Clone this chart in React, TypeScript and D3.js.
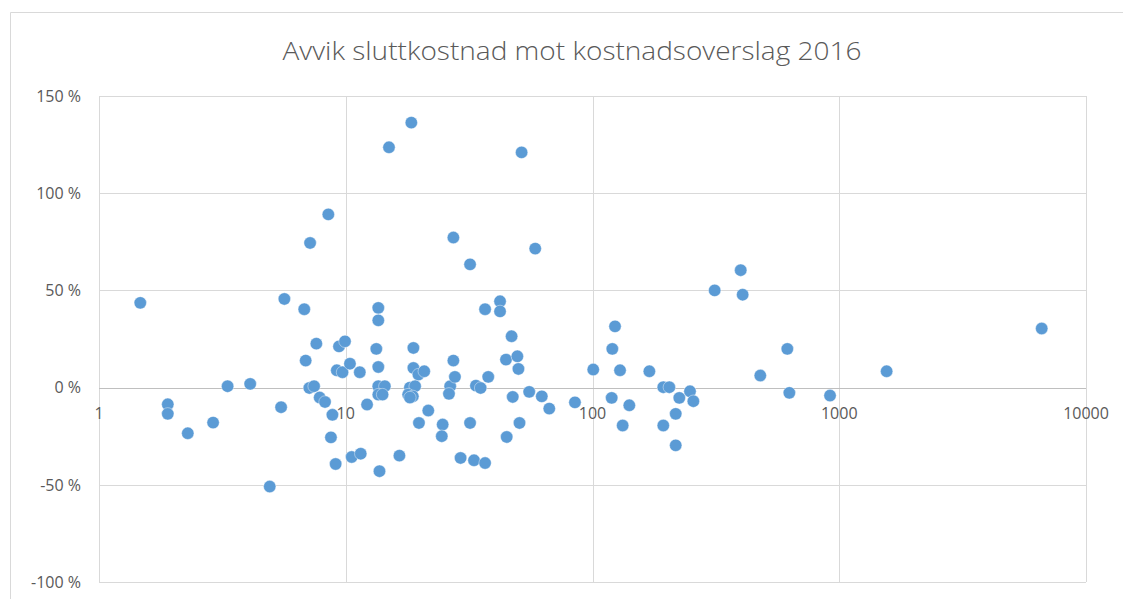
import React from "react";
import * as d3 from "d3";

const title = "Avvik sluttkostnad mot kostnadsoverslag 2016";

// x: kostnadsoverslag (log scale), y: avvik i prosent
const estimates = [
  1.47, 1.9, 1.9, 2.29, 2.9, 3.32, 4.1, 4.92, 5.47, 5.64,
  6.79, 6.88, 7.12, 7.17, 7.44, 7.6, 7.84, 8.24, 8.5, 8.71,
  8.83, 9.1, 9.2, 9.39, 9.7, 9.93, 10.4, 10.57, 11.4, 11.5,
  12.2, 13.3, 13.55, 13.55, 13.55, 13.55, 14.4, 13.55, 14.1, 13.7,
  14.97, 16.5, 18.44, 18.8, 18.8, 19.7, 20.8, 18.2, 19.1, 17.9,
  18.7, 18.2, 19.8, 21.6, 24.7, 24.5, 26.5, 26.2, 27.3, 27.7,
  27.3, 29.2, 31.9, 31.9, 33.1, 33.7, 35.2, 36.7, 36.7, 37.8,
  42.2, 42.2, 44.6, 44.9, 47, 47.5, 49.6, 50.1, 50.6, 51.6,
  55.4, 58.6, 62.3, 66.8, 84.9, 100.7, 119.6, 120.3, 123.4, 129.3,
  132.5, 141, 170, 193.6, 204.8, 193.6, 217.4, 217.4, 224.8, 248.4,
  256.3, 312.7, 398.7, 406, 478.6, 616, 627.7, 917.6, 1556, 6614,
];
const deviations = [
  43.6, -8.6, -13.5, -23.5, -18, 0.7, 1.9, -50.9, -10.1, 45.6,
  40.3, 13.9, -0.2, 74.4, 0.7, 22.6, -5.1, -7.4, 89.1, -25.6,
  -14, -39.3, 8.9, 21.2, 7.9, 23.8, 12.3, -35.7, 7.9, -34,
  -8.7, 19.9, 41, 34.6, 10.6, 0.7, 0.7, -3.6, -3.6, -43,
  123.6, -35, 136.3, 20.4, 10.1, 6.7, 8.4, 0, 0.7, -3.6,
  -4.5, -5.1, -18.2, -11.8, -19, -25, 0.7, -3.2, 13.9, 5.5,
  77.2, -36.2, 63.4, -18.2, -37.4, 1, -0.2, 40.3, -38.8, 5.5,
  44.4, 39.2, 14.4, -25.4, 26.4, -4.8, 16.1, 9.6, -18.2, 121,
  -2.2, 71.5, -4.5, -10.8, -7.6, 9.3, -5.3, 19.9, 31.5, 8.9,
  -19.5, -9.1, 8.4, 0.2, 0.2, -19.5, -13.5, -29.7, -5.3, -1.9,
  -7, 50, 60.4, 47.8, 6.2, 19.9, -2.7, -4.1, 8.4, 30.4,
];
const xTicks = [1, 10, 100, 1000, 10000];
const yTicks = [-100, -50, 0, 50, 100, 150];

const W = 1123;
const H = 599;
const font = "'Open Sans', 'DejaVu Sans', sans-serif";

export default function App() {
  const x = d3.scaleLog().domain([1, 10000]).range([99, 1086]);
  const y = d3.scaleLinear().domain([-100, 150]).range([582, 96]);
  const points = estimates.map((e, i) => ({ e, d: deviations[i] }));
  const fmtY = (v: number) => `${v} %`;

  return (
    <svg
      width={W}
      height={H}
      style={{ position: "absolute", left: 0, top: 0, background: "#fff" }}
    >
      <rect x={0} y={0} width={W} height={H} fill="#fff" />
      {/* chart border */}
      <line x1={10.5} y1={12.5} x2={W} y2={12.5} stroke="#d9d9d9" />
      <line x1={10.5} y1={12.5} x2={10.5} y2={H} stroke="#d9d9d9" />

      <text
        x={572}
        y={60}
        textAnchor="middle"
        fontFamily={font}
        fontWeight={300}
        fontSize={25}
        fill="#595959"
        textLength={579}
        lengthAdjust="spacingAndGlyphs"
      >
        {title}
      </text>

      {/* horizontal gridlines */}
      {yTicks.map((t) => (
        <line
          key={"hy" + t}
          x1={x(1)}
          x2={x(10000)}
          y1={Math.round(y(t)) + 0.5}
          y2={Math.round(y(t)) + 0.5}
          stroke={t === 0 ? "#bfbfbf" : "#d9d9d9"}
          strokeWidth={1}
        />
      ))}
      {/* vertical gridlines */}
      {xTicks.map((t) => (
        <line
          key={"vx" + t}
          x1={Math.round(x(t)) + 0.5}
          x2={Math.round(x(t)) + 0.5}
          y1={y(150)}
          y2={y(-100)}
          stroke="#d9d9d9"
          strokeWidth={1}
        />
      ))}
      {/* redraw zero axis on top */}
      <line
        x1={x(1)}
        x2={x(10000)}
        y1={Math.round(y(0)) + 0.5}
        y2={Math.round(y(0)) + 0.5}
        stroke="#bfbfbf"
      />

      {/* y labels */}
      {yTicks.map((t) => (
        <text
          key={"ly" + t}
          x={81}
          y={y(t)}
          dy="0.36em"
          textAnchor="end"
          fontFamily={font}
          fontSize={16}
          fill="#595959"
        >
          {fmtY(t)}
        </text>
      ))}
      {/* x labels */}
      {xTicks.map((t) => (
        <text
          key={"lx" + t}
          x={x(t)}
          y={y(0) + 26}
          dy="0.36em"
          textAnchor="middle"
          fontFamily={font}
          fontSize={16}
          fill="#595959"
        >
          {t}
        </text>
      ))}

      {/* points */}
      {points.map((p, i) => (
        <circle
          key={i}
          cx={x(p.e)}
          cy={y(p.d)}
          r={6.2}
          fill="#5b9bd5"
          stroke="#ffffff"
          strokeOpacity={0.55}
          strokeWidth={0.75}
        />
      ))}
    </svg>
  );
}
